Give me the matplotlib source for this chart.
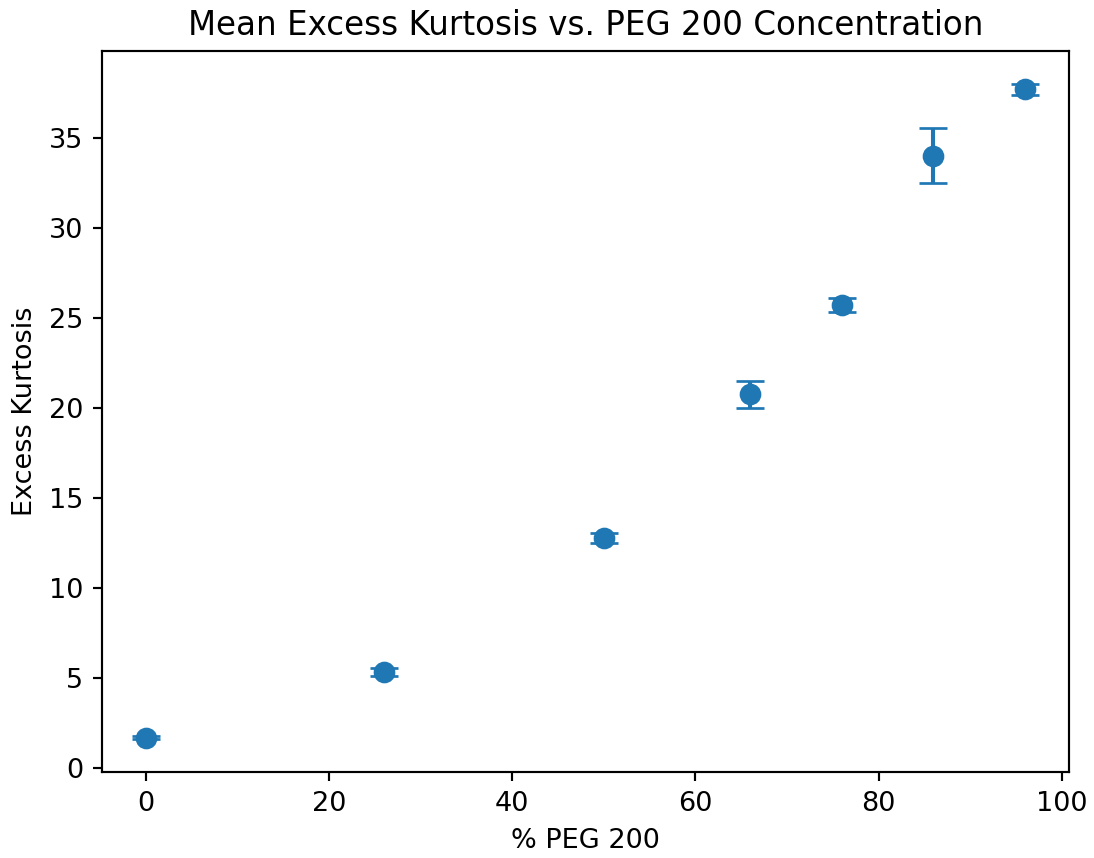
import numpy as np
import matplotlib.pyplot as plt

# PEG 200 concentration (%) and mean excess kurtosis with standard deviation
peg_percent = [0, 26, 50, 66, 76, 86, 96]
kurtosis_mean = [1.68, 5.33, 12.78, 20.75, 25.74, 34.0, 37.7]
kurtosis_err = [0.08, 0.2, 0.28, 0.75, 0.39, 1.53, 0.3]

fig = plt.figure(figsize=(1094 / 195, 858 / 195), dpi=195)
ax = fig.add_axes([102 / 1094, 1 - 772 / 858, 967 / 1094, 721 / 858])

ax.errorbar(peg_percent, kurtosis_mean, yerr=kurtosis_err, fmt='o',
            markersize=7, capsize=5, color='#1f77b4')

ax.set_title('Mean Excess Kurtosis vs. PEG 200 Concentration')
ax.set_xlabel('% PEG 200')
ax.set_ylabel('Excess Kurtosis')

fig.savefig('out.png', dpi=195)
